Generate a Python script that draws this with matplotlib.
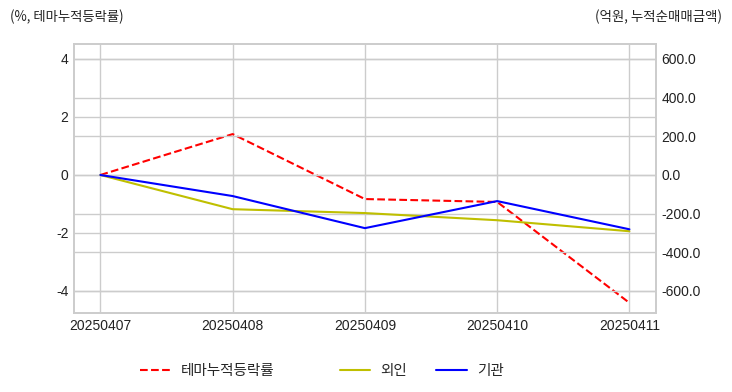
from matplotlib import pyplot as plt
import numpy as np

plt.style.use("seaborn-v0_8-whitegrid")
plt.rcParams["font.family"] = ["Liberation Sans", "Noto Sans CJK KR", "DejaVu Sans"]
plt.rcParams["axes.unicode_minus"] = False

dates = ["20250407", "20250408", "20250409", "20250410", "20250411"]
theme_return = [0.0, 1.41, -0.83, -0.93, -4.41]
foreign_net = [0.0, -177.0, -197.0, -234.0, -291.0]
inst_net = [0.0, -109.0, -275.0, -135.0, -281.0]

fig = plt.figure(figsize=(7.32, 3.92), dpi=100)
ax = fig.add_axes([0.101, 0.2015, 0.795, 0.6865])
ax2 = ax.twinx()

l1, = ax.plot(dates, theme_return, color="r", linestyle="--", linewidth=1.5,
              label="테마누적등락률")
l2, = ax2.plot(dates, foreign_net, color="y", linewidth=1.5, label="외인")
l3, = ax2.plot(dates, inst_net, color="b", linewidth=1.5, label="기관")

ax.set_xlim(-0.2, 4.2)
ax.set_ylim(-4.76, 4.52)
ax2.set_ylim(-4.76 * 150, 4.52 * 150)
ax.set_yticks([-4, -2, 0, 2, 4])
ax2.set_yticks([-600, -400, -200, 0, 200, 400, 600])
ax2.set_yticklabels([f"{v:.1f}" for v in ax2.get_yticks()])

for a in (ax, ax2):
    a.tick_params(labelsize=10, colors="#222222", length=0, pad=4)
    a.grid(True, color="#cccccc", linewidth=1)
    for s in a.spines.values():
        s.set_visible(True)
        s.set_color("#cccccc")
        s.set_linewidth(1.2)
ax2.grid(True, axis="y", color="#cccccc", linewidth=1)
ax2.grid(False, axis="x")

kr = ["Noto Sans CJK KR"]
fig.text(0.014, 0.957, "(%, 테마누적등락률)", fontsize=9.6, family=kr,
         ha="left", va="center", color="#222222")
fig.text(0.986, 0.957, "(억원, 누적순매매금액)", fontsize=9.7, family=kr,
         ha="right", va="center", color="#222222")

leg_kw = dict(frameon=False, handlelength=2.1, handletextpad=0.7,
              prop={"family": kr, "size": 10.5})
fig.legend(handles=[l1], loc="center left", bbox_to_anchor=(0.1735, 0.053), **leg_kw)
fig.legend(handles=[l2, l3], loc="center left", bbox_to_anchor=(0.446, 0.053),
           ncol=2, columnspacing=2.0, **leg_kw)

fig.savefig("out.png", dpi=100)
